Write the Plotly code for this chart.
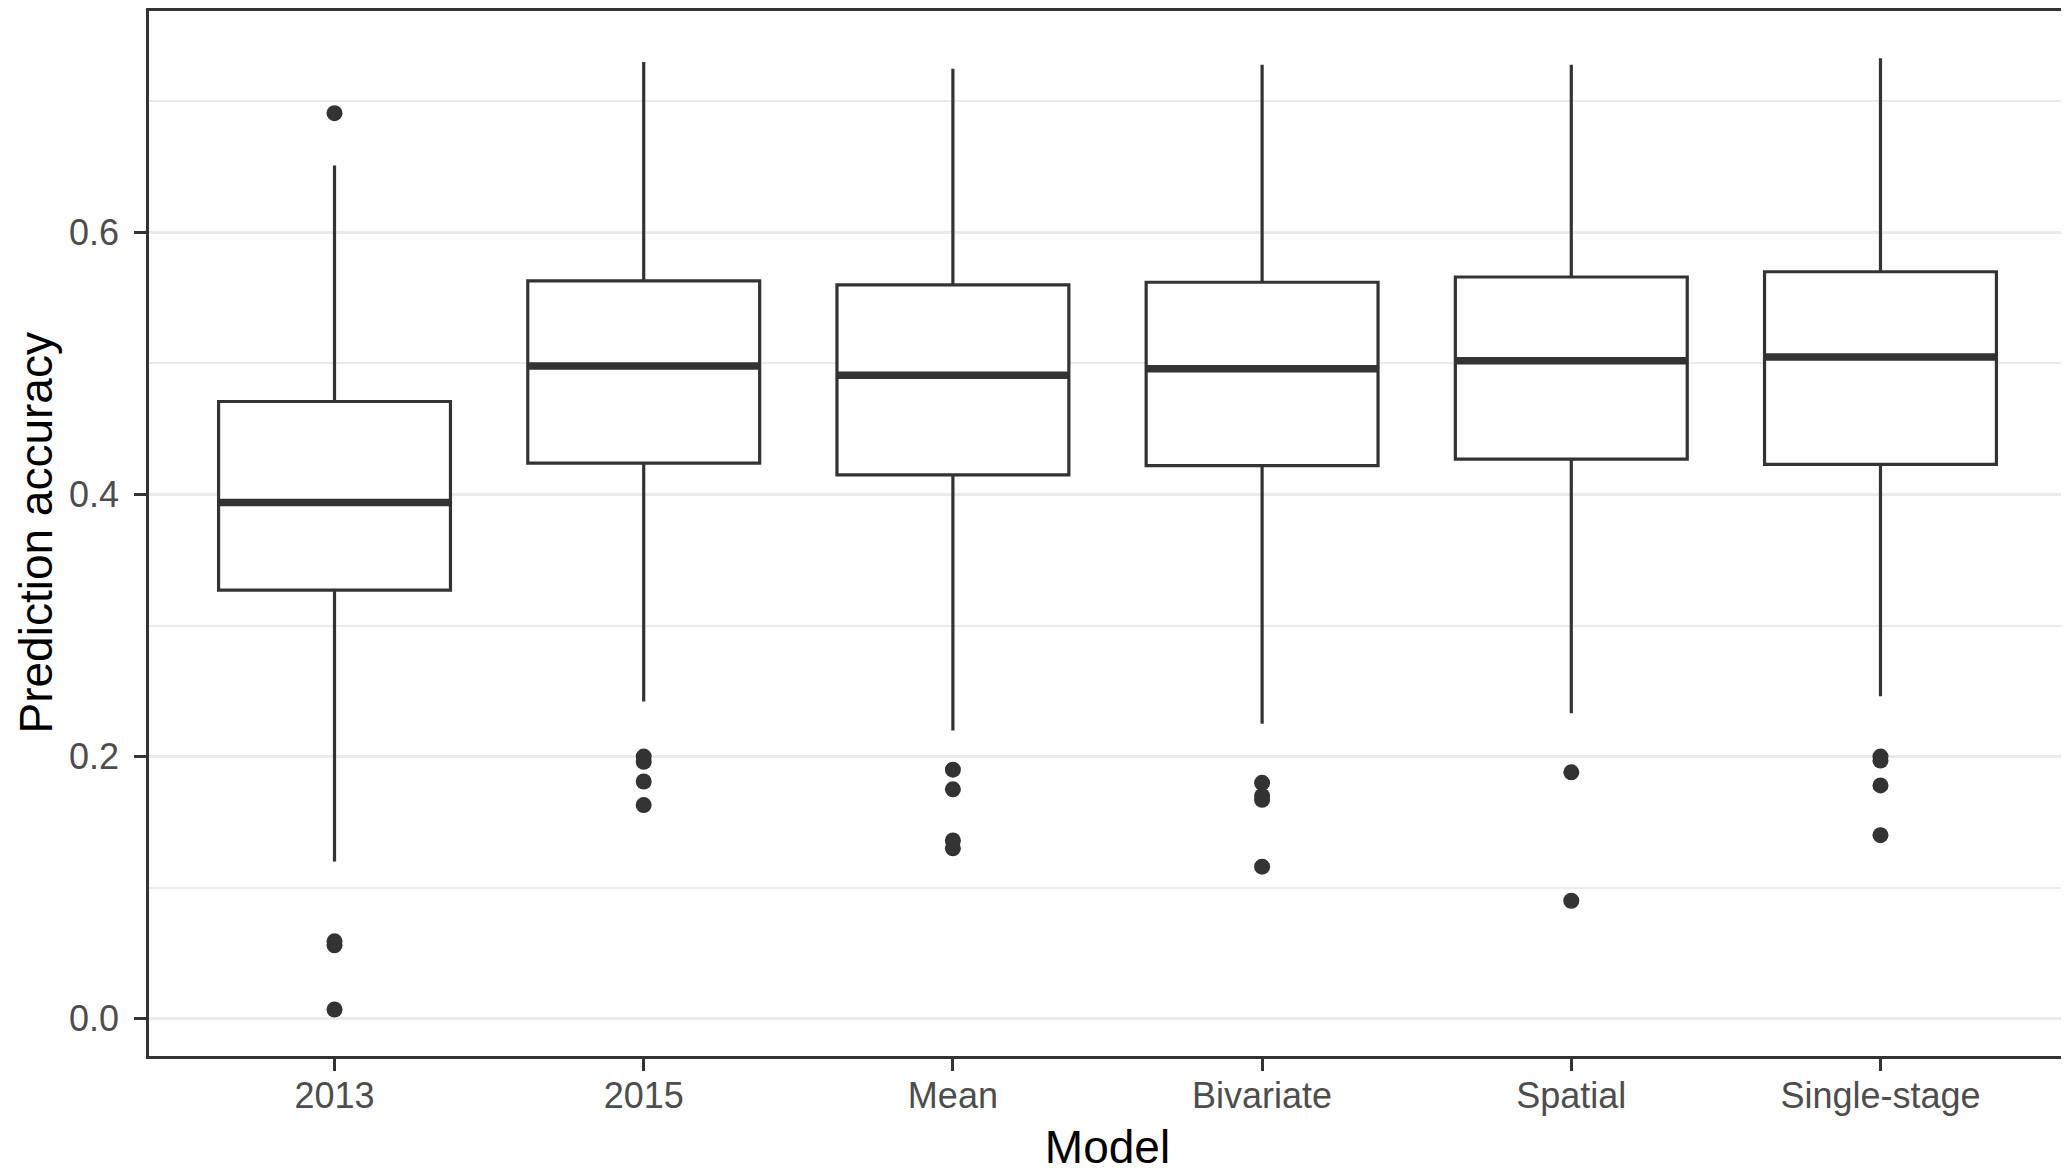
import plotly.graph_objects as go

# Box statistics (prediction accuracy per model)
models = ["2013", "2015", "Mean", "Bivariate", "Spatial", "Single-stage"]
lower_whisker = [0.120, 0.242, 0.220, 0.225, 0.233, 0.246]
q1 = [0.327, 0.424, 0.415, 0.422, 0.427, 0.423]
median = [0.394, 0.498, 0.491, 0.496, 0.502, 0.505]
q3 = [0.471, 0.563, 0.560, 0.562, 0.566, 0.570]
upper_whisker = [0.651, 0.730, 0.725, 0.728, 0.728, 0.733]

# Outliers per model
out_2013 = [0.691, 0.059, 0.056, 0.007]
out_2015 = [0.200, 0.196, 0.181, 0.163]
out_mean = [0.190, 0.175, 0.136, 0.130]
out_bivariate = [0.180, 0.170, 0.167, 0.116]
out_spatial = [0.188, 0.090]
out_single = [0.200, 0.197, 0.178, 0.140]

y_ticks = [0.0, 0.2, 0.4, 0.6]
y_tick_labels = ["0.0", "0.2", "0.4", "0.6"]

INK = "#333333"
GRID = "#EBEBEB"
FONT = "Liberation Sans, Arial, sans-serif"

fig = go.Figure()

# boxes + whiskers
fig.add_trace(go.Box(
    x=models, q1=q1, median=median, q3=q3,
    lowerfence=lower_whisker, upperfence=upper_whisker,
    boxpoints=False, width=0.75, whiskerwidth=0,
    fillcolor="white", line=dict(color=INK, width=3.2),
    hoverinfo="skip", showlegend=False,
))

# thicker median bar (ggplot fatten = 2), drawn as a zero-height box
fig.add_trace(go.Box(
    x=models, q1=median, median=median, q3=median,
    lowerfence=median, upperfence=median,
    boxpoints=False, width=0.75, whiskerwidth=0,
    fillcolor="rgba(0,0,0,0)", line=dict(color=INK, width=7.5),
    hoverinfo="skip", showlegend=False,
))

# outlier points
outliers = [out_2013, out_2015, out_mean, out_bivariate, out_spatial, out_single]
ox, oy = [], []
for m, vals in zip(models, outliers):
    ox += [m] * len(vals)
    oy += vals
fig.add_trace(go.Scatter(
    x=ox, y=oy, mode="markers",
    marker=dict(color=INK, size=16, line=dict(width=0)),
    hoverinfo="skip", showlegend=False,
))

# page body has an 8px margin, so the figure is shrunk/offset to line up
fig.update_layout(
    width=2061, height=1165,
    margin=dict(l=141, r=0, t=1, b=117),
    paper_bgcolor="white", plot_bgcolor="white",
    boxmode="overlay",
    font=dict(family=FONT, color="#4D4D4D", size=36),
    xaxis=dict(
        type="category", categoryorder="array", categoryarray=models,
        range=[-0.6, 5.6],
        showgrid=False, zeroline=False,
        showline=True, mirror=True, linecolor=INK, linewidth=2.6,
        ticks="outside", ticklen=12, tickwidth=3, tickcolor=INK,
        tickfont=dict(size=36, color="#4D4D4D"),
        ticklabelstandoff=-6,
        title=dict(text="Model", font=dict(size=46, color="black"), standoff=18),
    ),
    yaxis=dict(
        range=[-0.0285, 0.769],
        tickvals=y_ticks, ticktext=y_tick_labels,
        showgrid=True, gridcolor=GRID, gridwidth=3,
        minor=dict(dtick=0.1, tick0=0.1, showgrid=True, gridcolor=GRID, gridwidth=2),
        zeroline=False,
        showline=True, mirror=True, linecolor=INK, linewidth=2.6,
        ticks="outside", ticklen=12, tickwidth=3, tickcolor=INK,
        tickfont=dict(size=36, color="#4D4D4D"),
        ticklabelstandoff=8,
    ),
    annotations=[dict(
        text="Prediction accuracy", textangle=-90,
        xref="paper", yref="paper", x=0, y=0.5,
        xanchor="center", yanchor="middle", xshift=-114,
        showarrow=False, font=dict(size=46, color="black", family=FONT),
    )],
)

fig.write_html("out.html")
